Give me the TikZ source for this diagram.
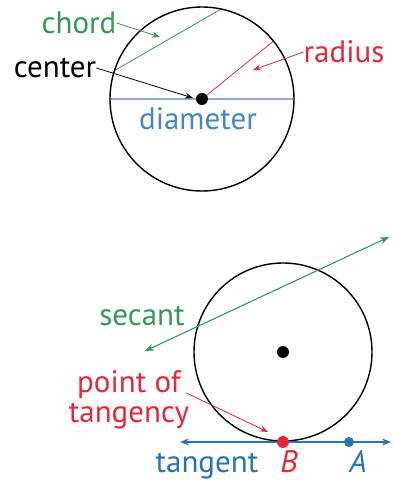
\documentclass[tikz,border=0pt]{standalone}
\usepackage{fontspec}
\setmainfont{PT Sans}
\usetikzlibrary{arrows.meta,calc}
\definecolor{cgreen}{RGB}{55,150,90}
\definecolor{cred}{RGB}{225,40,60}
\definecolor{cblue}{RGB}{40,115,180}
\definecolor{cdiam}{RGB}{140,175,205}
\definecolor{cdtext}{RGB}{70,135,195}
\tikzset{
  lbl/.style={inner sep=0pt, font=\fontsize{31}{33}\selectfont},
  circ/.style={draw=black, line width=1.4pt},
  ptr/.style={line width=0.8pt, -{Stealth[length=8pt,width=6pt]}},
  dbl/.style={line width=1.1pt, {Stealth[length=9pt,width=7pt]}-{Stealth[length=9pt,width=7pt]}},
  blackdot/.style={circle, fill=black, inner sep=0pt, minimum size=12pt},
  pt/.style={circle, inner sep=0pt, minimum size=12pt}
}
\begin{document}
\begin{tikzpicture}[x=1pt,y=1pt]
\useasboundingbox (0,0) rectangle (392,480);
% top circle
\coordinate (O1) at (202,381);
\coordinate (D1) at ($(O1)+(180:92)$);
\coordinate (D2) at ($(O1)+(0:92)$);
\coordinate (C1) at ($(O1)+(162:92)$);
\coordinate (C2) at ($(O1)+(78:92)$);
\coordinate (R1) at ($(O1)+(39:92)$);
\draw[cdiam, line width=2pt] (D1) -- (D2);
\draw[cgreen, line width=0.8pt] (C1) -- (C2);
\draw[cred, line width=0.8pt] (O1) -- (R1);
\draw[circ] (O1) circle[radius=92];
\node[blackdot] (c1) at (O1) {};
\node[lbl, text=cgreen] (chord) at (79,457) {chord};
\node[lbl, text=black] (center) at (55,412) {center};
\node[lbl, text=cred] (radius) at (344,428) {radius};
\node[lbl, text=cdtext] (diameter) at (198,361) {diameter};
\coordinate (chordtip) at (160,443);
\coordinate (centertip) at (193,382);
\coordinate (radiustip) at (253,410);
\draw[ptr, cgreen] (chord.east) -- (chordtip);
\draw[ptr, black] (center.east) -- (centertip);
\draw[ptr, cred] (radius.west) -- (radiustip);
% bottom circle
\coordinate (O2) at (283,128);
\coordinate (S1) at (145,129);
\coordinate (S2) at (389,243);
\coordinate (T1) at (180,38);
\coordinate (T2) at (391,38);
\draw[circ] (O2) circle[radius=89];
\node[blackdot] (c2) at (O2) {};
\draw[dbl, cgreen] (S1) -- (S2);
\draw[dbl, cblue] (T1) -- (T2);
\node[pt, fill=cred] (B) at (283,38) {};
\node[pt, fill=cblue, minimum size=10pt] (A) at (349,38) {};
\node[lbl, text=cgreen] (secant) at (142,164) {secant};
\node[lbl, text=cred, align=center] (pot) at (129,80) {point of\\[-3pt]tangency};
\node[lbl, text=cblue, anchor=base] (tangent) at (207,8) {tangent};
\node[lbl, text=cred, anchor=base] (Blbl) at (289,8) {\itshape B};
\node[lbl, text=cblue, anchor=base] (Albl) at (358,8) {\itshape A};
\coordinate (pottip) at (268,48);
\coordinate (potstart) at ($(pot.east)+(-3,7)$);
\draw[ptr, cred] (potstart) -- (pottip);
\end{tikzpicture}
\end{document}
